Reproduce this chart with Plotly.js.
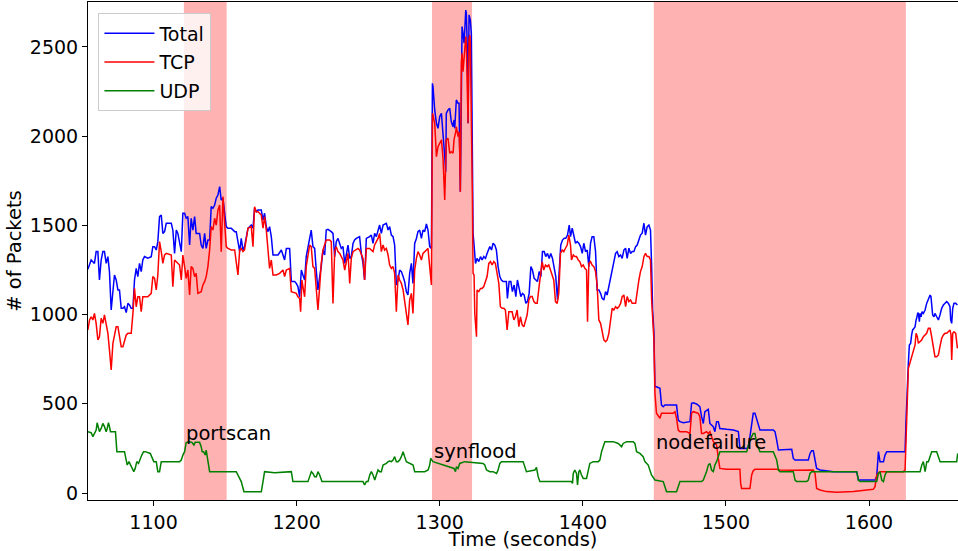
<!DOCTYPE html>
<html>
<head>
<meta charset="utf-8">
<script src="https://cdn.plot.ly/plotly-3.0.1.min.js"></script>
<style>html,body{margin:0;padding:0;background:#fff;overflow:hidden}</style>
</head>
<body>
<div id="chart" style="width:958px;height:551px"></div>
<script>
// [time (s), packets]
const totalPts = [
[1054.1,1254],[1056.4,1306],[1058.7,1287],[1059.9,1353],[1061.1,1353],[1062.2,1194],[1063.4,1306],[1064.6,1353],[1065.7,1353],[1066.9,1287],[1068.1,1325],[1069.2,1241],[1070.4,1026],[1071.6,1157],[1072.7,1222],[1073.9,1194],[1075.1,1138],[1076.2,1138],[1077.4,1035],[1078.6,1035],[1079.7,1044],[1080.9,1011],[1082.1,1063],[1083.2,1054],[1084.4,1035],[1085.6,1035],[1086.7,1194],[1087.9,1259],[1089.0,1213],[1090.2,1287],[1091.4,1241],[1092.5,1306],[1093.7,1325],[1096.0,1316],[1098.4,1325],[1099.5,1381],[1100.7,1381],[1101.9,1362],[1103.0,1409],[1104.2,1549],[1105.4,1558],[1106.5,1455],[1107.7,1465],[1108.9,1512],[1112.4,1512],[1113.5,1474],[1114.7,1343],[1115.9,1474],[1117.0,1455],[1119.4,1353],[1120.5,1568],[1121.7,1568],[1122.8,1540],[1124.0,1549],[1125.2,1390],[1126.3,1540],[1127.5,1474],[1128.7,1549],[1129.8,1455],[1132.2,1455],[1133.3,1390],[1134.5,1371],[1135.7,1455],[1136.8,1371],[1138.0,1418],[1139.2,1418],[1140.3,1605],[1141.5,1596],[1142.7,1614],[1143.8,1652],[1145.0,1670],[1146.2,1717],[1147.3,1642],[1148.5,1652],[1149.7,1568],[1150.8,1493],[1152.0,1484],[1154.3,1484],[1156.7,1465],[1157.8,1465],[1159.0,1409],[1160.2,1353],[1161.3,1427],[1162.5,1362],[1163.6,1381],[1166.0,1484],[1168.3,1502],[1169.5,1484],[1170.6,1596],[1171.8,1577],[1173.0,1586],[1175.3,1586],[1176.5,1530],[1177.6,1568],[1178.8,1493],[1180.0,1465],[1181.1,1493],[1182.3,1437],[1183.5,1334],[1184.6,1334],[1187.0,1334],[1189.3,1362],[1191.6,1306],
[1192.8,1371],[1195.1,1371],[1196.3,1185],[1198.6,1185],[1199.8,1175],[1200.9,1157],[1202.1,1100],[1203.3,1250],[1204.4,1222],[1205.6,1194],[1206.7,1325],[1207.9,1381],[1209.1,1427],[1210.2,1474],[1211.4,1381],[1212.6,1371],[1213.7,1250],[1214.9,1138],[1216.1,1213],[1217.2,1269],[1218.4,1362],[1219.6,1334],[1220.7,1474],[1221.9,1478],[1224.2,1465],[1225.4,1455],[1226.6,1325],[1227.7,1409],[1228.9,1427],[1230.1,1399],[1231.2,1371],[1232.4,1381],[1233.6,1287],[1234.7,1334],[1235.9,1390],[1237.1,1315],[1238.2,1325],[1239.4,1399],[1240.5,1418],[1241.7,1427],[1244.0,1437],[1245.2,1343],[1246.4,1287],[1247.5,1194],[1248.7,1427],[1251.0,1437],[1252.2,1446],[1253.4,1399],[1254.5,1455],[1255.7,1437],[1256.9,1465],[1258.0,1502],[1259.2,1455],[1260.4,1502],[1262.7,1512],[1263.9,1474],[1265.0,1493],[1266.2,1446],[1267.4,1437],[1268.5,1390],[1269.7,1166],[1270.9,1194],[1272.0,1250],[1273.2,1241],[1274.4,1213],[1275.5,1185],[1276.7,1128],[1277.8,1110],[1279.0,1231],[1280.2,1287],[1281.3,1175],[1282.5,1399],[1283.7,1427],[1284.8,1465],[1286.0,1474],[1287.2,1427],[1288.3,1474],[1289.5,1465],[1290.7,1508],[1291.8,1474],[1293.0,1381],[1294.2,1371],
[1294.9,2296],[1295.3,2278],[1296.5,2147],[1297.7,2072],[1298.8,2044],[1300.0,2110],[1301.2,2128],[1302.3,1979],[1303.5,1885],[1304.2,1801],[1304.6,2128],[1305.8,2147],[1307.0,2156],[1308.1,2081],[1309.3,2053],[1310.0,2091],[1310.5,2044],[1311.6,2203],[1312.8,2184],[1313.5,2184],[1314.0,1997],[1314.4,1689],[1315.1,2203],[1315.6,2614],[1316.3,2577],[1317.0,2521],[1317.5,2595],[1318.2,2707],[1318.6,2689],[1319.3,2483],[1319.8,2072],[1320.5,2680],[1321.4,2651],[1322.1,2577],[1322.8,1904],[1323.3,1456],[1324.0,1390],[1325.0,1287],
[1326.1,1315],[1327.3,1297],[1328.5,1325],[1329.6,1306],[1330.8,1325],[1332.0,1315],[1333.1,1343],[1333.8,1362],[1335.0,1381],[1336.2,1362],[1337.3,1400],[1338.5,1390],[1339.6,1362],[1340.8,1269],[1342.0,1213],[1343.1,1194],[1344.3,1185],[1346.6,1185],[1347.3,1091],[1348.5,1185],[1349.7,1185],[1350.8,1129],[1352.0,1166],[1353.2,1101],[1354.3,1194],[1355.5,1147],[1356.7,1101],[1357.8,1119],[1359.0,1110],[1360.2,1063],[1361.3,1073],[1362.5,1119],[1363.7,1269],[1364.8,1250],[1366.0,1203],[1367.2,1194],[1368.3,1185],[1369.5,1241],[1370.7,1213],[1371.8,1353],[1373.0,1353],[1374.1,1325],[1375.3,1343],[1376.5,1315],[1377.6,1343],[1378.8,1315],[1380.0,1250],[1381.1,1213],[1382.3,1082],[1383.5,1241],[1384.6,1390],[1385.8,1418],[1387.0,1428],[1388.1,1428],[1389.3,1446],[1390.5,1502],[1391.4,1437],[1392.6,1484],[1393.7,1446],[1394.9,1400],[1396.1,1409],[1397.2,1400],[1398.4,1381],[1399.6,1343],[1400.7,1400],[1401.9,1353],[1403.1,1362],[1404.2,1269],[1405.4,1400],[1406.5,1437],[1407.7,1437],[1408.9,1353],[1410.0,1138],[1411.2,1138],[1412.4,1119],[1413.5,1091],[1414.7,1082],[1415.9,1129],[1417.0,1110],[1418.2,1157],[1419.4,1203],[1420.5,1259],[1421.7,1306],[1422.9,1343],[1424.0,1353],[1425.2,1325],[1426.4,1334],[1427.5,1315],[1428.7,1362],[1429.9,1372],[1431.0,1315],[1432.2,1372],[1433.4,1343],[1434.5,1353],[1435.7,1353],[1436.9,1381],[1438.0,1390],[1439.2,1428],[1440.3,1446],[1441.5,1456],[1442.7,1512],[1443.8,1446],[1445.0,1493],[1446.2,1502],[1447.3,1474],[1448.1,1269],[1448.8,1026],[1449.7,900],
[1450.4,596],[1451.5,596],[1453.9,587],[1455.0,493],[1456.2,484],[1457.4,493],[1465.5,493],[1466.7,409],[1467.9,400],[1470.2,394],[1473.7,400],[1474.9,400],[1476.0,503],[1477.2,506],[1479.5,499],[1480.7,493],[1481.8,484],[1483.0,428],[1484.2,390],[1485.3,456],[1486.5,465],[1487.7,469],[1488.8,390],[1491.2,372],[1492.3,344],[1493.5,400],[1494.7,400],[1495.8,362],[1500.5,357],[1505.2,353],[1508.7,344],[1509.8,250],[1514.5,250],[1515.6,260],[1516.8,316],[1518.0,372],[1519.1,447],[1520.3,447],[1521.5,409],[1522.6,390],[1523.8,353],[1533.1,353],[1534.3,344],[1535.5,297],[1536.7,241],[1546.0,245],[1547.1,194],[1548.3,185],[1557.6,185],[1558.8,222],[1559.9,237],[1561.1,237],[1562.3,194],[1563.4,138],[1565.8,129],[1570.4,125],[1575.1,120],[1591.4,120],[1592.6,73],[1604.2,73],[1605.4,92],[1606.6,232],[1607.7,176],[1610.1,176],[1611.2,213],[1612.4,232],[1625.2,232],
[1625.9,409],[1626.8,633],[1627.5,727],[1628.2,830],[1629.1,839],[1629.8,886],[1630.5,914],[1631.5,923],[1632.2,932],[1632.9,970],[1633.3,979],[1634.0,1007],[1634.5,1007],[1635.2,960],[1635.7,1007],[1636.4,988],[1637.1,1016],[1638.0,1007],[1639.2,1026],[1640.3,1063],[1641.5,1091],[1642.7,1110],[1643.3,1101],[1643.8,1054],[1644.5,998],[1645.4,988],[1646.1,1007],[1647.3,988],[1648.5,970],[1649.6,998],[1650.8,1035],[1652.0,1054],[1653.1,1063],[1654.3,1073],[1655.5,1063],[1656.6,1044],[1657.1,970],[1657.8,951],[1658.5,1035],[1659.4,1063],[1660.6,1063],[1661.8,1054]
];

const tcpPts = [
[1054.1,914],[1055.3,970],[1056.4,988],[1057.6,970],[1058.7,1007],[1059.9,951],[1061.1,858],[1062.2,876],[1063.4,979],[1064.6,951],[1065.7,998],[1066.9,951],[1068.1,895],[1069.2,802],[1070.4,690],[1071.6,839],[1072.7,886],[1073.9,932],[1075.1,932],[1076.2,867],[1077.4,820],[1078.6,820],[1079.7,858],[1080.9,886],[1082.1,895],[1084.4,895],[1085.6,1007],[1086.7,1147],[1087.9,1044],[1089.0,1100],[1090.2,1100],[1091.4,1016],[1092.5,1100],[1093.7,1100],[1096.0,1100],[1098.4,1119],[1099.5,1213],[1100.7,1203],[1101.9,1138],[1103.0,1222],[1104.2,1409],[1105.4,1353],[1106.5,1287],[1107.7,1334],[1108.9,1343],[1112.4,1334],[1113.5,1157],[1114.7,1306],[1115.9,1297],[1118.2,1278],[1119.4,1194],[1120.5,1334],[1121.7,1269],[1122.8,1203],[1124.0,1250],[1125.2,1110],[1126.3,1269],[1127.5,1259],[1128.7,1213],[1129.8,1231],[1131.0,1119],[1133.3,1128],[1134.5,1166],[1135.7,1185],[1136.8,1213],[1138.0,1269],[1139.2,1362],[1140.3,1493],[1141.5,1474],[1142.7,1540],[1143.8,1502],[1145.0,1586],[1146.2,1614],[1147.3,1353],[1148.5,1661],[1149.7,1530],[1150.8,1381],[1152.0,1371],[1154.3,1362],[1156.7,1362],[1157.8,1306],[1159.0,1222],[1160.2,1362],[1161.3,1371],[1162.5,1353],[1163.6,1362],[1166.0,1484],[1168.3,1493],[1169.5,1381],[1170.6,1605],[1171.8,1577],[1173.0,1577],[1175.3,1558],[1176.5,1484],[1177.6,1549],[1178.8,1474],[1180.0,1362],[1181.1,1259],[1182.3,1306],[1183.5,1222],[1185.8,1222],[1188.1,1231],[1190.5,1250],[1191.6,1213],
[1192.8,1250],[1195.1,1259],[1196.3,1128],[1198.6,1123],[1199.8,1119],[1200.9,1100],[1202.1,1091],[1202.8,1016],[1203.7,1194],[1204.4,1157],[1205.6,1100],[1206.7,1269],[1207.9,1325],[1209.1,1390],[1210.2,1381],[1211.4,1269],[1212.6,1259],[1213.7,1138],[1214.9,1026],[1216.1,1157],[1217.2,1287],[1218.4,1362],[1219.6,1399],[1220.7,1418],[1223.1,1418],[1224.2,1409],[1225.4,1063],[1226.6,1353],[1227.7,1381],[1228.9,1353],[1230.1,1343],[1232.4,1306],[1233.6,1250],[1234.7,1306],[1235.9,1343],[1237.1,1175],[1238.2,1315],[1239.4,1353],[1241.7,1362],[1242.9,1371],[1244.0,1362],[1245.2,1334],[1246.4,1315],[1247.5,1194],[1248.7,1371],[1251.0,1371],[1252.2,1362],[1253.4,1353],[1254.5,1390],[1255.7,1409],[1256.9,1427],[1258.0,1455],[1259.2,1353],[1260.4,1390],[1261.5,1362],[1262.7,1371],[1263.9,1334],[1265.0,1278],[1266.2,1259],[1267.4,1269],[1268.5,1231],[1269.7,1016],[1270.9,1222],[1272.0,1194],[1273.2,1175],[1274.4,1138],[1275.5,1082],[1276.7,1007],[1277.8,942],[1279.0,1082],[1280.2,1119],[1281.3,1007],[1282.5,1250],[1283.7,1315],[1284.8,1353],[1286.0,1334],[1287.2,1306],[1288.3,1343],[1289.5,1353],[1290.7,1362],[1291.8,1371],[1293.0,1269],[1294.2,1166],
[1294.9,2128],[1295.3,2119],[1296.5,2072],[1297.7,1885],[1298.8,1941],[1300.0,1960],[1301.2,1979],[1302.3,1876],[1303.5,1642],[1304.6,1979],[1305.8,1988],[1307.0,1904],[1308.1,1913],[1309.3,1904],[1310.0,1979],[1311.2,2025],[1311.6,2053],[1312.8,1997],[1313.5,2025],[1314.0,1904],[1314.4,1689],[1315.1,2408],[1315.6,2465],[1316.3,2362],[1317.0,2427],[1317.5,2521],[1318.2,2558],[1318.6,2521],[1319.3,2072],[1319.8,2072],[1320.5,2540],[1321.0,2567],[1321.4,2521],[1322.1,2203],[1322.8,1680],[1323.3,1231],[1324.0,1222],[1324.5,1007],[1325.7,876],
[1326.1,1138],[1327.3,1129],[1328.5,1147],[1329.6,1147],[1330.8,1157],[1332.0,1185],[1333.1,1213],[1334.3,1287],[1335.5,1297],[1336.6,1278],[1337.8,1297],[1338.9,1287],[1340.1,1241],[1341.3,1175],[1342.4,1044],[1343.6,1035],[1344.8,1035],[1345.9,1026],[1347.1,914],[1348.3,1016],[1349.4,1016],[1350.6,1016],[1351.8,970],[1352.9,988],[1354.1,1026],[1355.3,932],[1356.4,988],[1357.6,942],[1358.8,932],[1359.9,970],[1361.1,998],[1362.3,1082],[1363.4,1101],[1364.6,1101],[1365.8,1073],[1366.9,1063],[1368.1,1063],[1369.3,1147],[1370.4,1222],[1371.6,1297],[1372.7,1250],[1373.9,1278],[1375.1,1269],[1376.2,1278],[1377.4,1250],[1378.6,1222],[1379.7,1194],[1380.9,1073],[1382.1,1063],[1383.2,1119],[1384.4,1343],[1385.6,1362],[1386.7,1353],[1387.9,1372],[1389.1,1390],[1390.2,1446],[1391.4,1390],[1392.1,1306],[1393.3,1334],[1394.4,1325],[1395.6,1325],[1396.8,1306],[1397.9,1297],[1399.1,1269],[1400.3,1278],[1401.4,1259],[1402.6,1250],[1403.3,960],[1404.2,1287],[1405.4,1297],[1406.5,1278],[1407.7,1269],[1408.9,1241],[1410.0,1166],[1411.2,970],[1412.4,951],[1413.5,914],[1414.7,858],[1415.9,848],[1417.0,858],[1418.2,895],[1419.4,970],[1420.5,1035],[1421.7,1026],[1422.9,1044],[1424.0,1035],[1425.2,1044],[1426.4,1063],[1427.5,1101],[1428.7,1110],[1429.9,1044],[1431.0,1101],[1432.2,1073],[1433.4,1082],[1434.5,1063],[1436.9,1063],[1438.0,1138],[1439.2,1194],[1440.3,1241],[1441.5,1269],[1442.7,1325],[1443.8,1343],[1445.0,1325],[1446.2,1325],[1447.3,1306],[1448.1,1082],[1449.7,858],
[1450.4,559],[1451.5,447],[1453.9,419],[1455.0,447],[1463.2,447],[1464.4,456],[1465.5,419],[1466.7,353],[1467.9,344],[1472.5,344],[1474.9,334],[1476.0,447],[1477.2,456],[1479.5,450],[1480.7,447],[1481.8,428],[1483.0,334],[1484.2,334],[1486.5,344],[1487.7,334],[1488.8,344],[1491.2,288],[1492.3,278],[1493.5,269],[1494.7,194],[1495.8,138],[1500.5,133],[1509.8,133],[1510.3,54],[1511.0,26],[1516.8,26],[1518.0,101],[1519.1,125],[1520.3,133],[1535.5,133],[1537.8,129],[1547.1,128],[1557.6,128],[1561.1,129],[1562.3,110],[1563.4,26],[1565.8,17],[1570.4,8],[1577.4,4],[1584.4,4],[1589.1,8],[1598.4,17],[1603.0,21],[1604.2,36],[1605.4,101],[1606.5,114],[1607.7,120],[1624.0,120],[1625.2,129],
[1625.9,297],[1626.8,540],[1627.5,699],[1628.2,718],[1629.1,746],[1629.8,764],[1631.0,802],[1632.2,830],[1632.9,895],[1633.8,876],[1634.5,839],[1635.7,848],[1636.8,858],[1638.0,876],[1639.2,886],[1640.3,895],[1641.5,923],[1642.7,923],[1643.8,876],[1645.0,820],[1646.1,764],[1647.3,764],[1648.5,774],[1649.6,820],[1650.8,867],[1652.0,886],[1653.1,895],[1654.3,895],[1655.5,904],[1656.6,914],[1657.3,886],[1657.8,746],[1658.5,895],[1659.4,904],[1660.6,895],[1661.8,811]
];

const udpPts = [
[1054.1,344],[1056.4,338],[1057.6,316],[1058.7,334],[1059.9,353],[1060.6,394],[1061.5,372],[1062.2,344],[1063.4,362],[1064.6,390],[1065.7,372],[1066.9,344],[1067.6,362],[1068.5,394],[1069.2,372],[1069.9,344],[1073.4,344],[1074.4,232],[1079.7,232],[1080.9,176],[1081.6,157],[1082.8,176],[1083.9,157],[1085.1,138],[1086.2,120],[1087.2,138],[1088.3,176],[1089.5,166],[1090.7,194],[1091.8,213],[1093.0,232],[1094.2,232],[1097.7,222],[1098.8,204],[1100.2,176],[1101.9,176],[1103.0,120],[1104.2,120],[1105.4,176],[1118.2,176],[1119.4,185],[1120.5,213],[1121.7,232],[1122.8,282],[1124.5,288],[1126.8,284],[1128.2,269],[1129.1,284],[1132.2,284],[1133.3,260],[1134.0,232],[1135.0,232],[1136.1,213],[1136.8,241],[1138.0,176],[1139.2,120],[1157.8,120],[1159.4,92],[1161.3,64],[1163.2,7],[1175.3,7],[1176.5,64],[1177.6,120],[1184.6,114],[1196.3,120],[1197.4,64],[1207.9,64],[1209.1,92],[1210.3,120],[1211.4,110],[1212.6,92],[1213.8,92],[1214.9,120],[1216.1,101],[1217.7,64],[1246.4,64],[1247.5,45],[1248.7,64],[1249.9,64],[1251.1,101],[1252.2,120],[1253.4,101],[1254.6,73],[1255.7,101],[1256.9,129],[1258.0,120],[1259.2,120],[1260.4,157],[1262.7,166],[1263.9,176],[1265.0,179],[1266.2,176],[1267.4,185],[1268.5,204],[1269.7,176],[1270.9,176],[1272.0,185],[1273.2,204],[1274.4,232],[1275.5,204],[1276.7,176],[1281.4,157],[1282.5,120],[1289.5,120],[1291.9,129],[1293.0,157],[1293.7,194],[1295.3,176],[1310.0,138],[1311.0,120],[1311.7,148],[1312.8,138],[1314.0,166],[1317.5,176],[1326.8,170],[1330.3,166],[1331.5,157],[1332.7,129],[1335.0,120],[1337.3,120],[1339.7,110],[1340.8,129],[1342.0,166],[1343.2,176],[1358.3,176],[1359.5,138],[1360.6,120],[1366.5,129],[1367.6,144],[1368.8,92],[1370.0,64],[1392.1,64],[1392.8,54],[1393.3,110],[1394.4,129],[1395.6,110],[1396.3,45],[1397.2,120],[1397.9,129],[1399.1,101],[1400.3,82],[1402.6,82],[1403.8,120],[1404.9,166],[1407.3,176],[1410.8,176],[1411.9,185],[1413.1,232],[1415.4,288],[1421.2,288],[1424.7,278],[1427.1,260],[1428.2,278],[1430.6,288],[1435.2,288],[1436.4,278],[1437.6,232],[1439.9,222],[1442.2,204],[1443.4,176],[1445.7,157],[1446.9,129],[1448.0,101],[1450.4,73],[1456.2,64],[1457.4,35],[1458.5,7],[1465.5,7],[1466.7,35],[1467.9,64],[1483.0,64],[1484.2,73],[1486.5,120],[1487.7,157],[1488.8,166],[1490.0,129],[1491.2,120],[1492.3,157],[1493.5,176],[1494.7,213],[1495.8,232],[1514.5,232],[1515.6,260],[1516.8,297],[1519.1,334],[1520.3,334],[1521.5,278],[1522.6,260],[1523.8,232],[1533.1,232],[1534.3,213],[1535.5,185],[1536.7,129],[1537.8,120],[1547.1,120],[1548.3,73],[1549.4,64],[1556.4,64],[1557.6,73],[1558.8,110],[1559.9,120],[1591.4,120],[1592.6,73],[1593.7,64],[1605.4,64],[1606.6,110],[1607.7,120],[1608.9,73],[1610.1,64],[1611.2,101],[1612.4,120],[1635.7,120],[1636.9,157],[1638.0,176],[1639.2,120],[1640.4,176],[1641.5,176],[1643.8,232],[1647.3,232],[1648.5,204],[1649.7,176],[1661.3,176],[1662.0,222]
];

const seriesNames = ['Total', 'TCP', 'UDP'];
const seriesColors = ['#0000ff', '#ff0000', '#008000'];

// attack windows [start, end] in seconds, with labels and label heights
const attackNames = ['portscan', 'synflood', 'nodefailure'];
const attackStart = [1121.2, 1294.6, 1449.6];
const attackEnd = [1151.1, 1322.6, 1625.8];
const labelY = [336, 233, 282];

const xTicks = [1100, 1200, 1300, 1400, 1500, 1600];
const yTicks = [0, 500, 1000, 1500, 2000, 2500];

const allSeries = [totalPts, tcpPts, udpPts];
const traces = allSeries.map((pts, i) => ({
  type: 'scatter',
  mode: 'lines',
  name: seriesNames[i],
  legendgroup: 'g' + i,
  x: pts.map(p => p[0]),
  y: pts.map(p => p[1]),
  line: {color: seriesColors[i], width: 1.5},
  hoverinfo: 'skip'
}));

const shapes = attackNames.map((n, i) => ({
  type: 'rect', xref: 'x', yref: 'paper',
  x0: attackStart[i], x1: attackEnd[i], y0: 0, y1: 1,
  fillcolor: 'rgba(255,0,0,0.3)', line: {width: 0}, layer: 'below'
}));

const annotations = attackNames.map((n, i) => ({
  x: attackStart[i], y: labelY[i], xref: 'x', yref: 'y',
  text: n, showarrow: false, xanchor: 'left', yanchor: 'middle',
  font: {family: 'DejaVu Sans', size: 19.5, color: '#000'}
}));

const layout = {
  width: 958, height: 551,
  margin: {l: 88, r: 0, t: 2, b: 51},
  paper_bgcolor: '#fff', plot_bgcolor: '#fff',
  font: {family: 'DejaVu Sans', size: 19, color: '#000'},
  showlegend: true,
  legend: {
    x: 0.012, y: 0.977, xanchor: 'left', yanchor: 'top',
    bgcolor: 'rgba(255,255,255,0.8)', bordercolor: '#cccccc', borderwidth: 1,
    font: {family: 'DejaVu Sans', size: 19, color: '#000'},
    tracegroupgap: 1, itemwidth: 50
  },
  xaxis: {
    range: [1054.2, 1662.2], tickvals: xTicks, ticktext: xTicks.map(String),
    ticks: 'outside', ticklen: 5, tickwidth: 1, tickcolor: '#000',
    showline: true, linecolor: '#000', linewidth: 1, mirror: true,
    showgrid: false, zeroline: false,
    tickfont: {size: 19},
    title: {text: 'Time (seconds)', font: {size: 19.5}, standoff: 1}
  },
  yaxis: {
    range: [-39, 2752], tickvals: yTicks, ticktext: yTicks.map(String),
    ticks: 'outside', ticklen: 5, tickwidth: 1, tickcolor: '#000',
    showline: true, linecolor: '#000', linewidth: 1,
    showgrid: false, zeroline: false,
    tickfont: {size: 19},
    title: {text: '# of Packets', font: {size: 19.5}, standoff: 3}
  },
  shapes: shapes,
  annotations: annotations
};

Plotly.newPlot('chart', traces, layout, {displayModeBar: false, staticPlot: true});
</script>
</body>
</html>
